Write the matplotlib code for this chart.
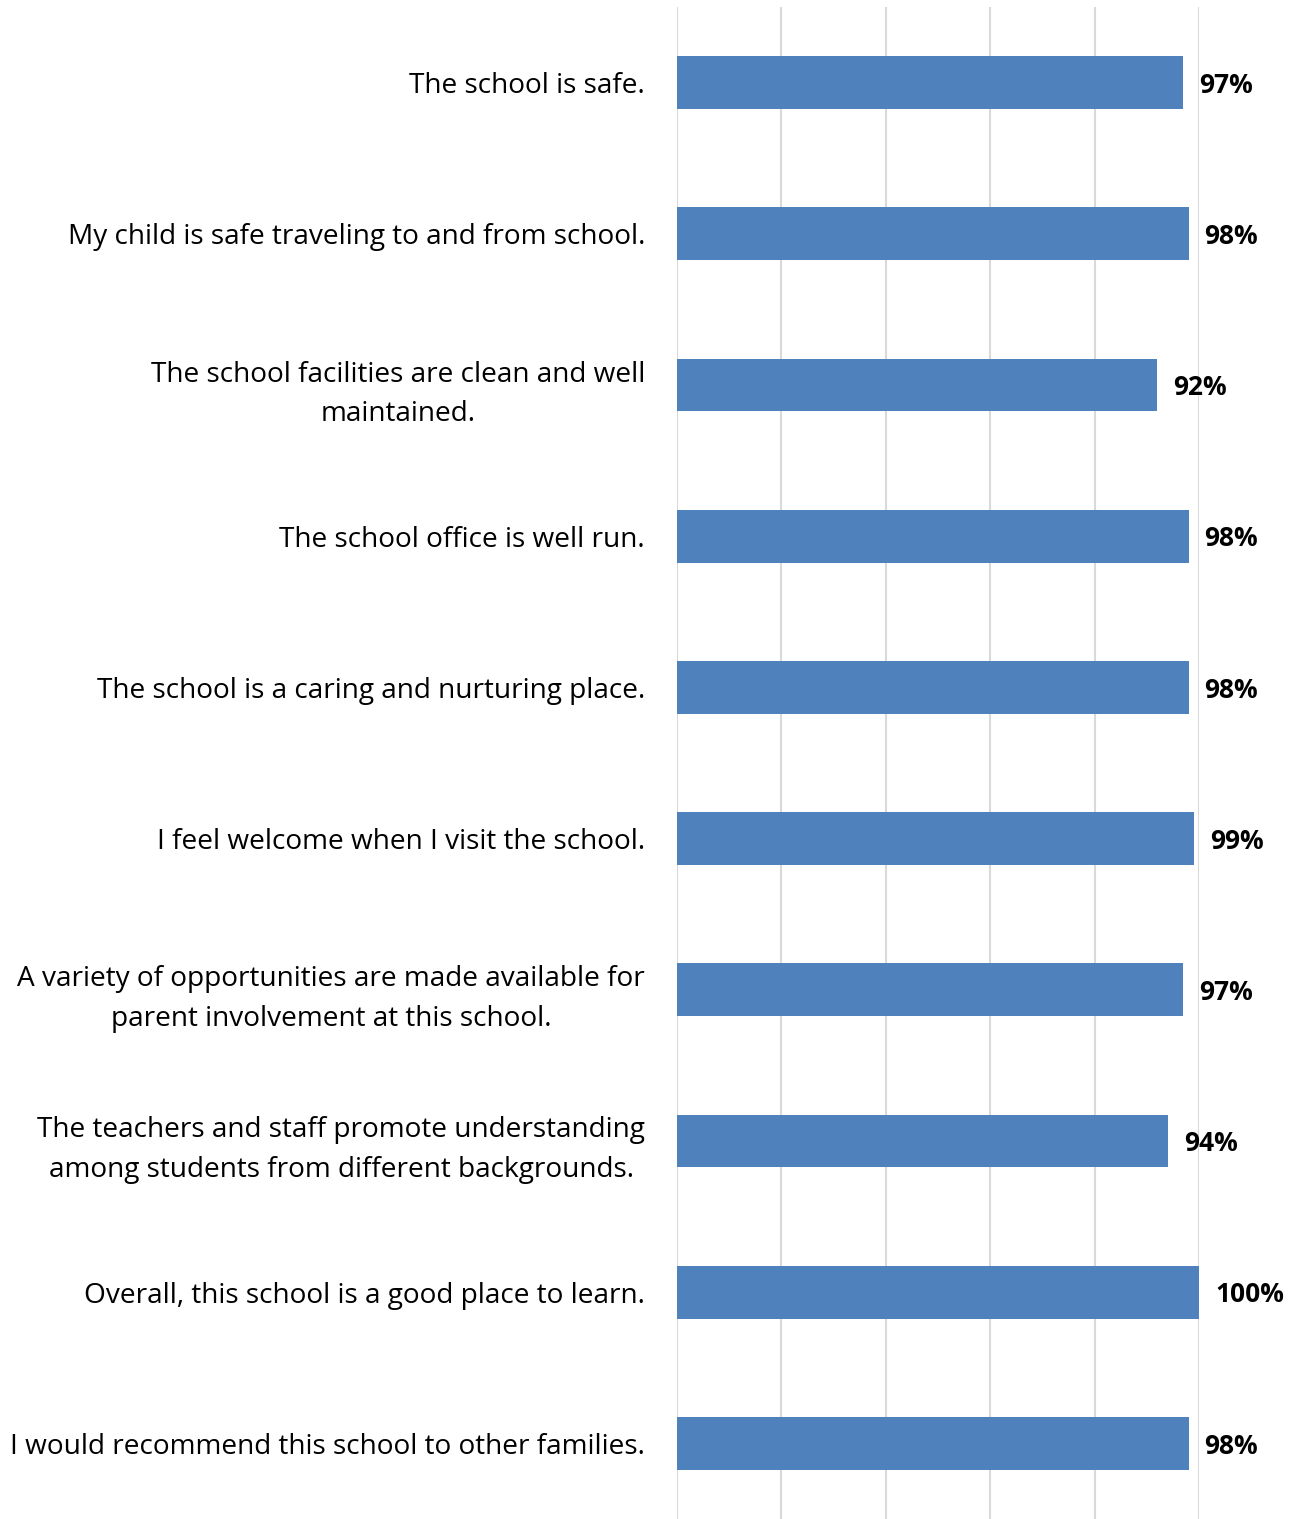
import matplotlib
matplotlib.use("Agg")
import matplotlib.pyplot as plt

questions = [
    "The school is safe.",
    "My child is safe traveling to and from school.",
    "The school facilities are clean and well\nmaintained.",
    "The school office is well run.",
    "The school is a caring and nurturing place.",
    "I feel welcome when I visit the school.",
    "A variety of opportunities are made available for\nparent involvement at this school.",
    "The teachers and staff promote understanding\namong students from different backgrounds.",
    "Overall, this school is a good place to learn.",
    "I would recommend this school to other families.",
]
percent = [97, 98, 92, 98, 98, 99, 97, 94, 100, 98]

plt.rcParams['font.family'] = ['Open Sans', 'DejaVu Sans']

fig = plt.figure(figsize=(12.99, 15.19), dpi=100)
ax = fig.add_axes([677/1299, 0, (1199-677)/1299, 1 - 7/1519])

ypos = list(range(len(questions)))
ax.barh(ypos, percent, height=0.35, color='#4F81BD', zorder=3)
ax.set_xlim(0, 100)
ax.set_ylim(len(questions) - 0.5, -0.5)
ax.set_xticks([0, 20, 40, 60, 80, 100])
ax.set_xticklabels([])
ax.xaxis.grid(True, color='#D9D9D9', linewidth=1.5, zorder=0)
ax.tick_params(axis='both', length=0)
for s in ax.spines.values():
    s.set_visible(False)

ax.set_yticks(ypos)
ax.set_yticklabels(questions, fontsize=20.2, multialignment='center')
for lbl in ax.get_yticklabels():
    lbl.set_linespacing(1.55)
ax.tick_params(axis='y', pad=23)

for y, v in zip(ypos, percent):
    ax.annotate(f"{v}%", xy=(v, y), xytext=(11.5, -2), textcoords='offset points',
                ha='left', va='center', fontsize=19, fontweight='bold')

fig.savefig("out.png", dpi=100)
